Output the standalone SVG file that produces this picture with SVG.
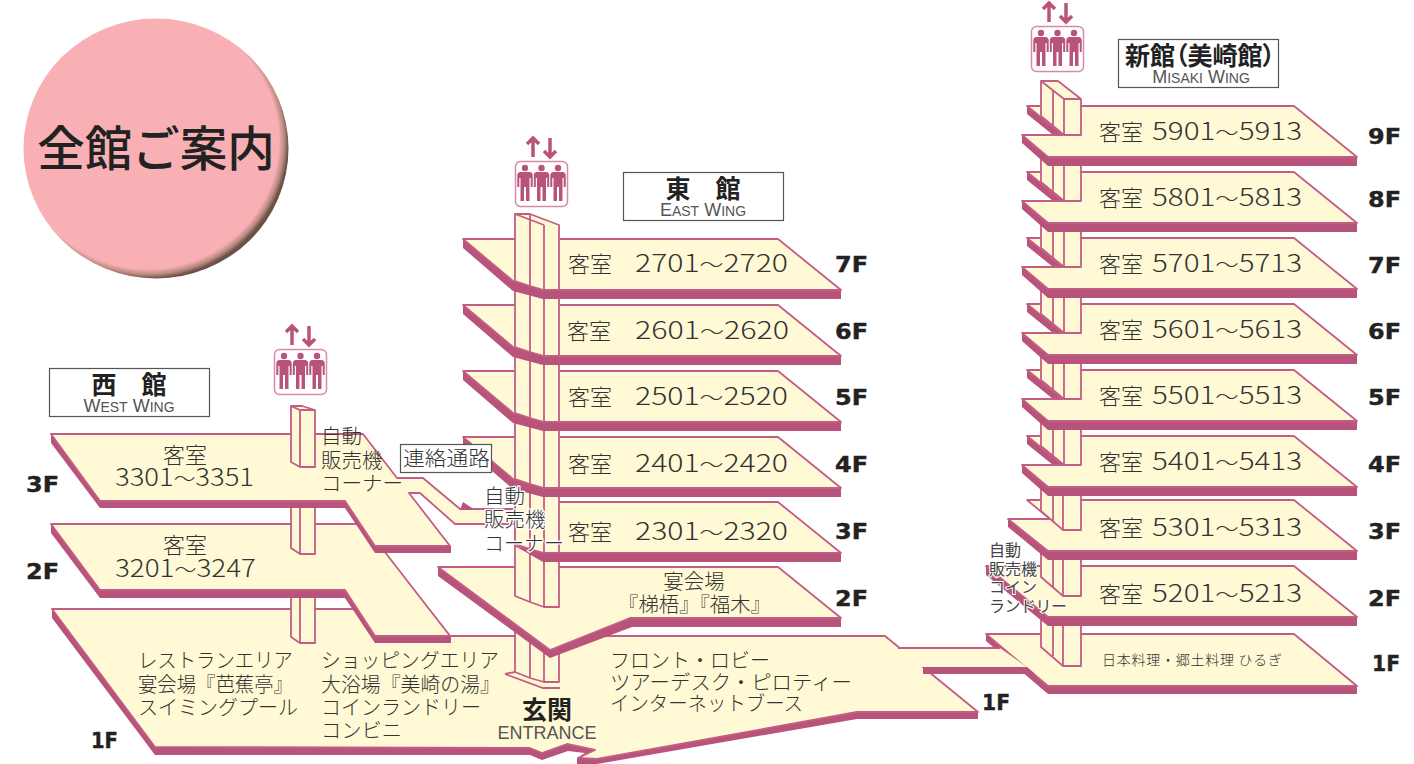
<svg xmlns="http://www.w3.org/2000/svg" xmlns:xlink="http://www.w3.org/1999/xlink" width="1414" height="764" viewBox="0 0 1414 764">
<style>
text{font-family:"Noto Sans CJK JP","Noto Sans",sans-serif;fill:#333}
.b{fill:#b8547b}
.s{fill:#fff9d5;stroke:#c45d85;stroke-width:1.8;stroke-linejoin:round}
.sf{fill:#fff9d5;stroke:none}
.l{fill:none;stroke:#c45d85;stroke-width:1.8}
.fl{font-family:"DejaVu Sans","Liberation Sans",sans-serif;font-weight:700;font-size:22px;fill:#222;stroke:#222;stroke-width:.4px}
.r{font-size:22px;font-weight:300}
.n{font-size:24px;font-weight:300}
.n tspan{font-size:19px}
.t{font-size:20.500px;font-weight:300}
.h{paint-order:stroke;stroke:#fff;stroke-width:2.500px}
.m{font-size:16px;fill:#444;paint-order:stroke;stroke:#fff;stroke-width:2px}
.box{fill:#fff;stroke:#555;stroke-width:1.200}
.tt{font-weight:700;font-size:25px;fill:#222;text-anchor:middle}
.st{font-family:"Liberation Sans",sans-serif;font-size:18px;fill:#555;text-anchor:middle}
.st tspan{font-size:14px}
</style>
<defs>
<radialGradient id="ball" cx="0.47" cy="0.47" r="0.53">
<stop offset="0.93" stop-color="#f9b0b5"/><stop offset="0.97" stop-color="#b98a80"/><stop offset="1" stop-color="#6f5048"/>
</radialGradient>
<g id="person" fill="#b8547b"><circle cx="0" cy="-16" r="3.200"/><path d="M-4.500-12H4.500Q7.700-12 7.700-8.500V3H5.700V-6H4.500V17H1V3H-1V17H-4.500V-6H-5.700V3H-7.700V-8.500Q-7.700-12-4.500-12Z"/></g>
<g id="lift">
<path d="M18-22.500V-4M12-17 18-23 24-17" fill="none" stroke="#b8547b" stroke-width="3.500"/>
<path d="M35-23V-4.500M29-10 35-4 41-10" fill="none" stroke="#b8547b" stroke-width="3.500"/>
<rect x="0.500" y="0.500" width="52" height="45" rx="5" fill="#fff" stroke="#d88aa8" stroke-width="1.500"/>
<use href="#person" x="10" y="23"/><use href="#person" x="26.500" y="23"/><use href="#person" x="43" y="23"/>
</g>
<g id="eastFloor">
<polygon class="b" points="463,0 463,9 513,52 543,60 841,60 841,51 778,0"/>
<polygon class="s" points="463,0 778,0 841,51 543,51 513,42"/>
</g>
<g id="eastShaft">
<polygon class="s" points="515,-20 559,-20 559,51 544,51 530,47 515,42"/>
<path class="l" d="M530-20V47M544-20V51"/>
</g>
<g id="misFloor">
<polygon class="b" points="1027,0 1027,8 1053,29 1022,29 1022,37 1048,60 1357,60 1357,51 1294,0"/>
<polygon class="s" points="1027,0 1294,0 1357,51 1048,51 1022,29 1063,29"/>
</g>
<g id="misShaft">
<polygon class="s" points="1041,-20 1081,-20 1081,29 1064,29 1041,10"/>
<path class="l" d="M1053-20V20M1064-20V29"/>
</g>
</defs>
<rect width="1414" height="764" fill="#fff"/>

<g id="title"><ellipse cx="156" cy="148.500" rx="132.500" ry="130" fill="url(#ball)"/><text x="156" y="166" text-anchor="middle" font-size="47.500" font-weight="500" style="fill:#222">全館ご案内</text></g>

<g id="connectors">
<g id="main-1F">
<polygon class="b" points="52,609 52,618 155,755 530,755 542,760 568,751 585,753 577,758 577,764 597,764 857,719 978,719 978,712 885,636 380,636 370,609"/>
<polygon class="s" points="52,609 370,609 380,636 885,636 978,712 857,712 597,759 578,758 595,750 567,744 542,753 530,748 155,747"/>
<polygon class="s" points="291,590 315,590 315,643 300,643 291,637"/>
<path class="l" d="M300,590V643"/>
<polygon class="s" points="515,600 559,600 559,682 544,682 530,678 515,672"/>
<path class="l" d="M530,600V678M544,600V682M505,674 515,672M505,674 543,688H560"/>
</g>
</g>

<g id="west-2F">
<polygon class="b" points="51,524 51,533 100,598 345,598 375,643 451,643 451,636 381,547 357,524"/>
<polygon class="s" points="51,524 357,524 381,547 450,636 375,636 345,590 100,590"/>
<polygon class="s" points="291,495 315,495 315,554 300,554 291,548"/><path class="l" d="M300,495V554"/>
</g>
<g id="west-3F">
<polygon class="b" points="51,434 51,443 100,508 345,508 375,553 451,553 451,546 350,434"/>
<polygon class="s" points="51,434 363,434 397,478 423,478 460,509 515,509 515,524 455,524 420,493 409,493 450,546 375,546 345,501 100,501"/>
<polygon class="s" points="291,406 302,406 315,410 315,467 300,467 291,462"/><path class="l" d="M300,410V467M291,406 300,410H315"/>
</g>

<g id="east-2F">
<polygon class="b" points="438,567 438,576 550,658 632,627 841,627 841,618 778,567"/>
<polygon class="s" points="438,567 778,567 841,618 630,618 550,650"/>
<polygon class="s" points="515,540 559,540 559,607 544,607 530,602 515,596"/><path class="l" d="M530,540V602M544,540V607"/>
</g>
<g id="east-3F">
<polygon class="b" points="463,502 460,510 475,510"/>
<polygon class="b" points="515,546 543,562 841,562 841,553 778,502 515,502"/>
<polygon class="s" points="515,502 778,502 841,553 543,553 515,546"/>
<g transform="translate(0,502)"><use href="#eastShaft"/></g>
</g>
<g id="east-4F" transform="translate(0,437)"><use href="#eastFloor"/><use href="#eastShaft"/></g>
<g id="east-5F" transform="translate(0,371)"><use href="#eastFloor"/><use href="#eastShaft"/></g>
<g id="east-6F" transform="translate(0,305)"><use href="#eastFloor"/><use href="#eastShaft"/></g>
<g id="east-7F" transform="translate(0,239)"><use href="#eastFloor"/>
<polygon class="s" points="515,-25 530,-25 559,-14 559,51 544,51 530,47 515,42"/><path class="l" d="M530,-25V47M544,-14V51M515,-25 544,-14"/></g>

<g id="mis-1F">
<polygon class="b" points="986,634 986,641 1048,694 1357,694 1357,686 1294,634"/>
<polygon class="s" points="986,634 1294,634 1357,686 1048,686"/>
<polygon class="s" points="1041,610 1081,610 1081,666 1063,666 1041,647"/><path class="l" d="M1053,610V656M1063,610V666"/>
</g>
<g id="link-new">
<polygon class="b" points="923,667 923,674 1035,674 1027,667"/>
<polygon class="sf" points="888,648 1000,648 1027,667 913,667"/>
<path class="l" d="M898,648H1000"/>
</g>
<g id="mis-2F">
<polygon class="b" points="986,566 986,575 1048,626 1357,626 1357,617 1294,566"/>
<polygon class="s" points="986,566 1294,566 1357,617 1048,617"/>
<polygon class="s" points="1041,545 1081,545 1081,596 1063,596 1041,577"/><path class="l" d="M1053,545V587M1063,545V596"/>
</g>
<g id="mis-3F">
<polygon class="b" points="1008,519 1008,527 1048,560 1357,560 1357,551 1048,551"/>
<polygon class="s" points="1027,500 1294,500 1357,551 1048,551 1008,519 1050,519"/>
<polygon class="s" points="1041,480 1081,480 1081,530 1063,530 1041,511"/><path class="l" d="M1053,480V521M1063,480V530"/>
</g>
<g id="mis-4F" transform="translate(0,436)"><use href="#misFloor"/><use href="#misShaft"/></g>
<g id="mis-5F" transform="translate(0,370)"><use href="#misFloor"/><use href="#misShaft"/></g>
<g id="mis-6F" transform="translate(0,304)"><use href="#misFloor"/><use href="#misShaft"/></g>
<g id="mis-7F" transform="translate(0,238)"><use href="#misFloor"/><use href="#misShaft"/></g>
<g id="mis-8F" transform="translate(0,172)"><use href="#misFloor"/><use href="#misShaft"/></g>
<g id="mis-9F" transform="translate(0,106)"><use href="#misFloor"/>
<polygon class="s" points="1041,-25 1058,-25 1081,-7 1081,29 1064,29 1041,10"/><path class="l" d="M1053,-16V20M1064,-7V29M1041,-25 1064,-7H1081"/></g>

<g id="lift-west" transform="translate(274,349)"><use href="#lift"/></g>
<g id="lift-east" transform="translate(515,161)"><use href="#lift"/></g>
<g id="lift-new" transform="translate(1031,26)"><use href="#lift"/></g>

<g id="wing-west"><rect class="box" x="49.500" y="368.500" width="160" height="48"/><text class="tt" x="129" y="394">西　館</text><text class="st" x="129" y="412">W<tspan>EST</tspan> W<tspan>ING</tspan></text></g>
<g id="wing-east"><rect class="box" x="623.500" y="172.500" width="160" height="48"/><text class="tt" x="703" y="198">東　館</text><text class="st" x="703" y="216">E<tspan>AST</tspan> W<tspan>ING</tspan></text></g>
<g id="wing-new"><rect class="box" x="1118.500" y="39.500" width="160" height="48"/><text class="tt" x="1200" y="65" style="font-feature-settings:'palt'">新館（美崎館）</text><text class="st" x="1201" y="83">M<tspan>ISAKI</tspan> W<tspan>ING</tspan></text></g>

<g id="labels-west">
<text class="r" x="185" y="463" text-anchor="middle">客室</text><text class="n" x="115" y="486" textLength="139" lengthAdjust="spacingAndGlyphs">3301<tspan>～</tspan>3351</text>
<text class="r" x="185" y="553" text-anchor="middle">客室</text><text class="n" x="115" y="577" textLength="141" lengthAdjust="spacingAndGlyphs">3201<tspan>～</tspan>3247</text>
<text class="t" x="321" y="444">自動</text><text class="t" x="321" y="468">販売機</text><text class="t" x="321" y="491">コーナー</text>
<text class="fl" x="26" y="492" textLength="33" lengthAdjust="spacingAndGlyphs">3F</text>
<text class="fl" x="26" y="579" textLength="33" lengthAdjust="spacingAndGlyphs">2F</text>
<text class="fl" x="91" y="748" textLength="27" lengthAdjust="spacingAndGlyphs">1F</text>
<text class="t" x="138" y="668" textLength="155" lengthAdjust="spacingAndGlyphs">レストランエリア</text><text class="t" x="138" y="692" textLength="155" lengthAdjust="spacingAndGlyphs">宴会場『芭蕉亭』</text><text class="t" x="138" y="715" textLength="160" lengthAdjust="spacingAndGlyphs">スイミングプール</text>
<text class="t" x="321" y="668" textLength="178" lengthAdjust="spacingAndGlyphs">ショッピングエリア</text><text class="t" x="321" y="692" textLength="179" lengthAdjust="spacingAndGlyphs">大浴場『美崎の湯』</text><text class="t" x="321" y="715" textLength="160" lengthAdjust="spacingAndGlyphs">コインランドリー</text><text class="t" x="321" y="738" textLength="81" lengthAdjust="spacingAndGlyphs">コンビニ</text>
</g>
<g id="link-label"><rect x="400.500" y="444.500" width="91" height="28" fill="#fff" stroke="#555" stroke-width="1.200"/><text class="t" x="403" y="466" textLength="87" lengthAdjust="spacingAndGlyphs">連絡通路</text></g>
<g id="labels-east">
<text class="t h" x="484" y="504">自動</text><text class="t h" x="484" y="527">販売機</text><text class="t h" x="484" y="551" textLength="80" lengthAdjust="spacingAndGlyphs">コーナー</text>
<text class="r" x="568" y="272">客室</text><text class="n" x="635" y="272" textLength="153" lengthAdjust="spacingAndGlyphs">2701<tspan>～</tspan>2720</text>
<text class="r" x="567" y="339">客室</text><text class="n" x="635" y="339" textLength="154" lengthAdjust="spacingAndGlyphs">2601<tspan>～</tspan>2620</text>
<text class="r" x="568" y="405">客室</text><text class="n" x="635" y="405" textLength="153" lengthAdjust="spacingAndGlyphs">2501<tspan>～</tspan>2520</text>
<text class="r" x="568" y="472">客室</text><text class="n" x="635" y="472" textLength="153" lengthAdjust="spacingAndGlyphs">2401<tspan>～</tspan>2420</text>
<text class="r" x="568" y="540">客室</text><text class="n" x="635" y="540" textLength="153" lengthAdjust="spacingAndGlyphs">2301<tspan>～</tspan>2320</text>
<text class="t" x="694" y="589" text-anchor="middle">宴会場</text><text class="t" x="618" y="612" textLength="153" lengthAdjust="spacingAndGlyphs">『梯梧』『福木』</text>
<text class="fl" x="835" y="272" textLength="33" lengthAdjust="spacingAndGlyphs">7F</text>
<text class="fl" x="835" y="339" textLength="33" lengthAdjust="spacingAndGlyphs">6F</text>
<text class="fl" x="835" y="405" textLength="33" lengthAdjust="spacingAndGlyphs">5F</text>
<text class="fl" x="835" y="472" textLength="33" lengthAdjust="spacingAndGlyphs">4F</text>
<text class="fl" x="835" y="539" textLength="33" lengthAdjust="spacingAndGlyphs">3F</text>
<text class="fl" x="835" y="606" textLength="33" lengthAdjust="spacingAndGlyphs">2F</text>
</g>
<g id="labels-main">
<text x="547" y="719" text-anchor="middle" font-size="25" font-weight="700" style="fill:#222">玄関</text>
<text x="547" y="739" text-anchor="middle" font-size="18" style="font-family:'Liberation Sans',sans-serif;fill:#555">ENTRANCE</text>
<text class="t" x="610" y="668" textLength="160" lengthAdjust="spacingAndGlyphs">フロント・ロビー</text><text class="t" x="610" y="690" textLength="242" lengthAdjust="spacingAndGlyphs">ツアーデスク・ピロティー</text><text class="t" x="610" y="711" textLength="193" lengthAdjust="spacingAndGlyphs">インターネットブース</text>
<text class="fl" x="982" y="710" textLength="28" lengthAdjust="spacingAndGlyphs">1F</text>
</g>
<g id="labels-new">
<text class="r" x="1099" y="140">客室</text><text class="n" x="1152" y="140" textLength="150" lengthAdjust="spacingAndGlyphs">5901<tspan>～</tspan>5913</text>
<text class="r" x="1099" y="206">客室</text><text class="n" x="1152" y="206" textLength="150" lengthAdjust="spacingAndGlyphs">5801<tspan>～</tspan>5813</text>
<text class="r" x="1099" y="272">客室</text><text class="n" x="1152" y="272" textLength="150" lengthAdjust="spacingAndGlyphs">5701<tspan>～</tspan>5713</text>
<text class="r" x="1099" y="338">客室</text><text class="n" x="1152" y="338" textLength="150" lengthAdjust="spacingAndGlyphs">5601<tspan>～</tspan>5613</text>
<text class="r" x="1099" y="404">客室</text><text class="n" x="1152" y="404" textLength="150" lengthAdjust="spacingAndGlyphs">5501<tspan>～</tspan>5513</text>
<text class="r" x="1099" y="470">客室</text><text class="n" x="1152" y="470" textLength="150" lengthAdjust="spacingAndGlyphs">5401<tspan>～</tspan>5413</text>
<text class="r" x="1099" y="536">客室</text><text class="n" x="1152" y="536" textLength="150" lengthAdjust="spacingAndGlyphs">5301<tspan>～</tspan>5313</text>
<text class="r" x="1099" y="602">客室</text><text class="n" x="1152" y="602" textLength="150" lengthAdjust="spacingAndGlyphs">5201<tspan>～</tspan>5213</text>
<text x="1102" y="665" font-size="14" font-weight="300" textLength="180">日本料理・郷土料理 ひるぎ</text>
<text class="m" x="989" y="556">自動</text><text class="m" x="989" y="575">販売機</text><text class="m" x="989" y="593">コイン</text><text class="m" x="989" y="612" textLength="78">ランドリー</text>
<text class="fl" x="1368" y="144" textLength="33" lengthAdjust="spacingAndGlyphs">9F</text>
<text class="fl" x="1368" y="207" textLength="33" lengthAdjust="spacingAndGlyphs">8F</text>
<text class="fl" x="1368" y="273" textLength="33" lengthAdjust="spacingAndGlyphs">7F</text>
<text class="fl" x="1368" y="339" textLength="33" lengthAdjust="spacingAndGlyphs">6F</text>
<text class="fl" x="1368" y="405" textLength="33" lengthAdjust="spacingAndGlyphs">5F</text>
<text class="fl" x="1368" y="472" textLength="33" lengthAdjust="spacingAndGlyphs">4F</text>
<text class="fl" x="1368" y="539" textLength="33" lengthAdjust="spacingAndGlyphs">3F</text>
<text class="fl" x="1368" y="606" textLength="33" lengthAdjust="spacingAndGlyphs">2F</text>
<text class="fl" x="1372" y="671" textLength="28" lengthAdjust="spacingAndGlyphs">1F</text>
</g>
</svg>
